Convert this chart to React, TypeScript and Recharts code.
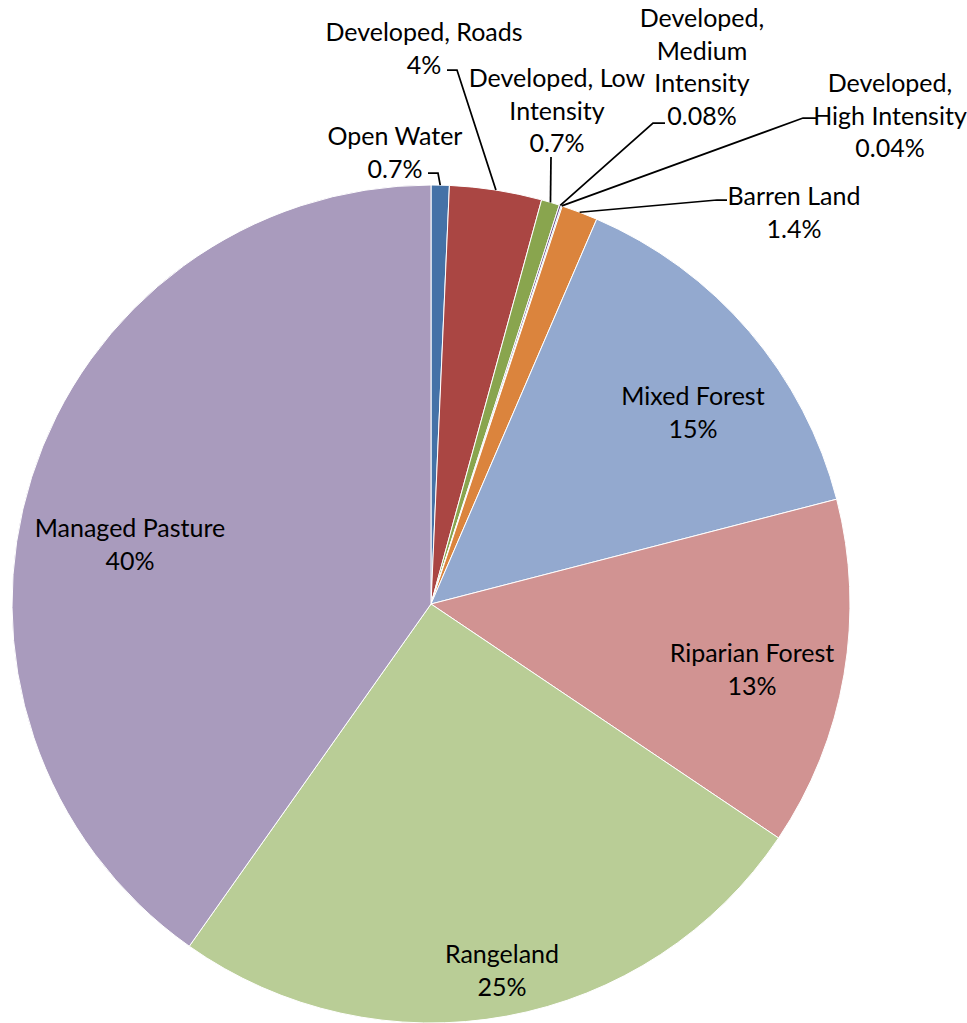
import { PieChart, Pie, Cell } from 'recharts';

// Land cover categories, clockwise from 12 o'clock
const categories = [
  'Open Water',
  'Developed, Roads',
  'Developed, Low Intensity',
  'Developed, Medium Intensity',
  'Developed, High Intensity',
  'Barren Land',
  'Mixed Forest',
  'Riparian Forest',
  'Rangeland',
  'Managed Pasture',
];

// Share of area (%)
const shares = [0.7, 3.55, 0.7, 0.08, 0.04, 1.4, 14.5, 13.45, 25.35, 40.2];

// Percent text as shown on the labels
const percentLabels = ['0.7%', '4%', '0.7%', '0.08%', '0.04%', '1.4%', '15%', '13%', '25%', '40%'];

const COLORS = [
  '#4572A7', '#AA4643', '#89A54E', '#71588F', '#4198AF',
  '#DB843D', '#93A9CF', '#D19392', '#B9CD96', '#A99BBD',
];

const data = categories.map((name, i) => ({ name, value: shares[i], pct: percentLabels[i] }));

const CX = 431;
const CY = 604;
const R = 419;
const FONT = 25;
const LINE_H = 32.5;
const RAD = Math.PI / 180;

// label layout: text block centre (dx, dy of first line, relative to pie centre),
// wrap width in characters, and leader line elbow/end (relative to pie centre)
type Lay = { dx: number; dy: number; wrap: number; elbow?: [number, number]; end?: [number, number] };
const LAYOUT: Lay[] = [
  { dx: -36, dy: -469, wrap: 12, elbow: [7, -431], end: [-3, -431] },
  { dx: -7, dy: -573, wrap: 16, elbow: [26, -534], end: [16, -534] },
  { dx: 126, dy: -527, wrap: 14, elbow: [120, -447], end: [120, -447] },
  { dx: 271, dy: -587, wrap: 10, elbow: [222, -481], end: [234, -481] },
  { dx: 459, dy: -522, wrap: 14, elbow: [372, -486], end: [385, -486] },
  { dx: 363, dy: -409, wrap: 12, elbow: [286, -404], end: [296, -404] },
  { dx: 262, dy: -209, wrap: 20 },
  { dx: 321, dy: 48, wrap: 20 },
  { dx: 71, dy: 349, wrap: 20 },
  { dx: -301, dy: -77, wrap: 20 },
];

const wrapText = (text: string, max: number) => {
  const lines: string[] = [];
  let cur = '';
  text.split(' ').forEach((w) => {
    if (!cur) cur = w;
    else if ((cur + ' ' + w).length <= max) cur += ' ' + w;
    else {
      lines.push(cur);
      cur = w;
    }
  });
  if (cur) lines.push(cur);
  return lines;
};

const renderLabel = (props: any) => {
  const { cx, cy, midAngle, outerRadius, index } = props;
  const lay = LAYOUT[index];
  const item = data[index];
  const lines = [...wrapText(item.name, lay.wrap), item.pct];
  const tx = cx + lay.dx;
  const ty = cy + lay.dy;
  let leader = null;
  if (lay.elbow && lay.end) {
    const ex = cx + outerRadius * Math.cos(-midAngle * RAD);
    const ey = cy + outerRadius * Math.sin(-midAngle * RAD);
    const bx = cx + lay.elbow[0];
    const by = cy + lay.elbow[1];
    const lx = cx + lay.end[0];
    const ly = cy + lay.end[1];
    leader = (
      <polyline
        points={`${ex},${ey} ${bx},${by} ${lx},${ly}`}
        fill="none"
        stroke="#000"
        strokeWidth={1.75}
      />
    );
  }
  return (
    <g key={`lbl-${index}`}>
      {leader}
      <text
        x={tx}
        y={ty}
        textAnchor="middle"
        fill="#000"
        fontSize={FONT}
        fontFamily="Lato, 'Open Sans', sans-serif"
      >
        {lines.map((ln, i) => (
          <tspan key={i} x={tx} y={ty + i * LINE_H} dominantBaseline="central">
            {ln}
          </tspan>
        ))}
      </text>
    </g>
  );
};

const App = () => {
  return (
    <div style={{ position: 'absolute', left: 0, top: 0, background: '#fff' }}>
      <PieChart width={967} height={1023} margin={{ top: 0, right: 0, bottom: 0, left: 0 }}>
        <Pie
          data={data}
          dataKey="value"
          nameKey="name"
          cx={CX}
          cy={CY}
          outerRadius={R}
          startAngle={90}
          endAngle={-270}
          stroke="#fff"
          strokeWidth={1}
          label={renderLabel}
          labelLine={false}
          isAnimationActive={false}
        >
          {data.map((_entry, index) => (
            <Cell key={`cell-${index}`} fill={COLORS[index % COLORS.length]} />
          ))}
        </Pie>
      </PieChart>
    </div>
  );
};

export default App;
